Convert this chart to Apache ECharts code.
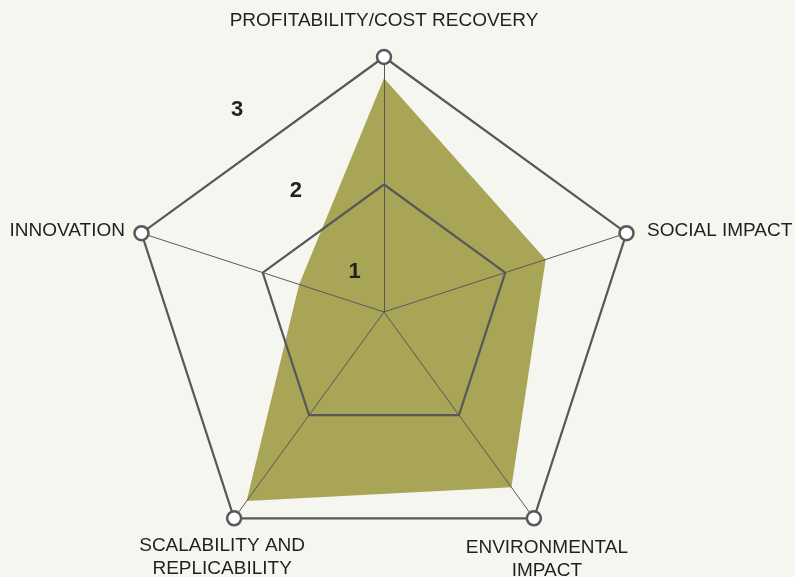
<!DOCTYPE html>
<html>
<head>
<meta charset="utf-8">
<script src="https://cdn.jsdelivr.net/npm/echarts@6/dist/echarts.min.js"></script>
<style>
html,body{margin:0;padding:0;background:#f6f6f1;}
#chart{width:795px;height:577px;}
</style>
</head>
<body>
<div id="chart"></div>
<script>
// Data
var indicators = ['PROFITABILITY/COST RECOVERY', 'INNOVATION', 'SCALABILITY AND\nREPLICABILITY', 'ENVIRONMENTAL\nIMPACT', 'SOCIAL IMPACT'];
var scores = [2.75, 1.05, 2.75, 2.55, 2.0];
var maxScore = 3;
var levelLabels = ['1', '2', '3'];

// Layout (name placement relative to each outer vertex)
var nameLayout = [
  { anchor: 'center', dx: 0, dy: -36 },
  { anchor: 'right', dx: -16.5, dy: -2 },
  { anchor: 'center', dx: -12, dy: 39 },
  { anchor: 'center', dx: 13, dy: 41 },
  { anchor: 'left', dx: 20.5, dy: -2 }
];

var gridColor = '#58585a';
var textColor = '#231f20';
var fontFamily = '"Liberation Sans", Arial, Helvetica, sans-serif';
var nameSize = 19;
var nameLineHeight = 23;

var measureCtx = document.createElement('canvas').getContext('2d');
measureCtx.font = nameSize + 'px ' + fontFamily;
function textWidth(t) { return measureCtx.measureText(t).width; }

var rich = {};
var nameStrings = {};
indicators.forEach(function (name, i) {
  var L = nameLayout[i];
  var lines = name.split('\n');
  var parts = [];
  var spacer = 2 * Math.abs(L.dy);
  rich['sp' + i] = { fontSize: 1, lineHeight: spacer, height: spacer };
  lines.forEach(function (line, k) {
    var w = textWidth(line);
    var cx = L.anchor === 'left' ? L.dx + w / 2 : (L.anchor === 'right' ? L.dx - w / 2 : L.dx);
    var l = Math.max(0, 2 * cx), r = Math.max(0, -2 * cx);
    rich['n' + i + 'l' + k] = {
      color: textColor, fontSize: nameSize, fontFamily: fontFamily,
      lineHeight: nameLineHeight, align: 'center',
      padding: [0, r, 0, l]
    };
    parts.push('{n' + i + 'l' + k + '|' + line + '}');
  });
  if (L.dy > 0) parts.unshift('{sp' + i + '| }');
  else parts.push('{sp' + i + '| }');
  nameStrings[name] = parts.join('\n');
});

var chart = echarts.init(document.getElementById('chart'));

chart.setOption({
  backgroundColor: '#f6f6f1',
  animation: false,
  radar: {
    center: [384, 312],
    radius: 255,
    startAngle: 90,
    splitNumber: 2,
    shape: 'polygon',
    z: 5,
    indicator: indicators.map(function (n) { return { name: n, max: maxScore, min: 0 }; }),
    nameGap: 0,
    axisName: {
      color: textColor,
      fontSize: nameSize,
      fontFamily: fontFamily,
      align: 'center',
      verticalAlign: 'middle',
      formatter: function (name) { return nameStrings[name]; },
      rich: rich
    },
    axisLine: { show: true, lineStyle: { color: gridColor, width: 1 } },
    splitLine: { show: true, lineStyle: { color: gridColor, width: 2.2 } },
    splitArea: { show: false },
    axisTick: { show: false },
    axisLabel: { show: false }
  },
  polar: {
    center: [384, 312],
    radius: 300
  },
  angleAxis: {
    type: 'value',
    startAngle: 126,
    show: false
  },
  radiusAxis: {
    type: 'category',
    data: levelLabels,
    z: 20,
    axisLine: { show: false },
    axisTick: { show: false },
    splitLine: { show: false },
    axisLabel: {
      show: true,
      interval: 0,
      margin: 0,
      align: 'center',
      verticalAlign: 'middle',
      color: textColor,
      fontSize: 22,
      fontWeight: 'bold',
      fontFamily: fontFamily
    }
  },
  series: [
    {
      type: 'radar',
      z: 2,
      symbol: 'none',
      lineStyle: { width: 0, opacity: 0 },
      areaStyle: { color: '#a8a557', opacity: 1 },
      data: [{ value: scores, name: 'Score' }]
    },
    {
      type: 'radar',
      z: 10,
      symbol: 'circle',
      symbolSize: 14,
      itemStyle: { color: '#ffffff', borderColor: gridColor, borderWidth: 2.5 },
      lineStyle: { width: 0, opacity: 0 },
      areaStyle: { opacity: 0 },
      data: [{ value: indicators.map(function () { return maxScore; }), name: 'Max' }]
    }
  ]
});
</script>
</body>
</html>
